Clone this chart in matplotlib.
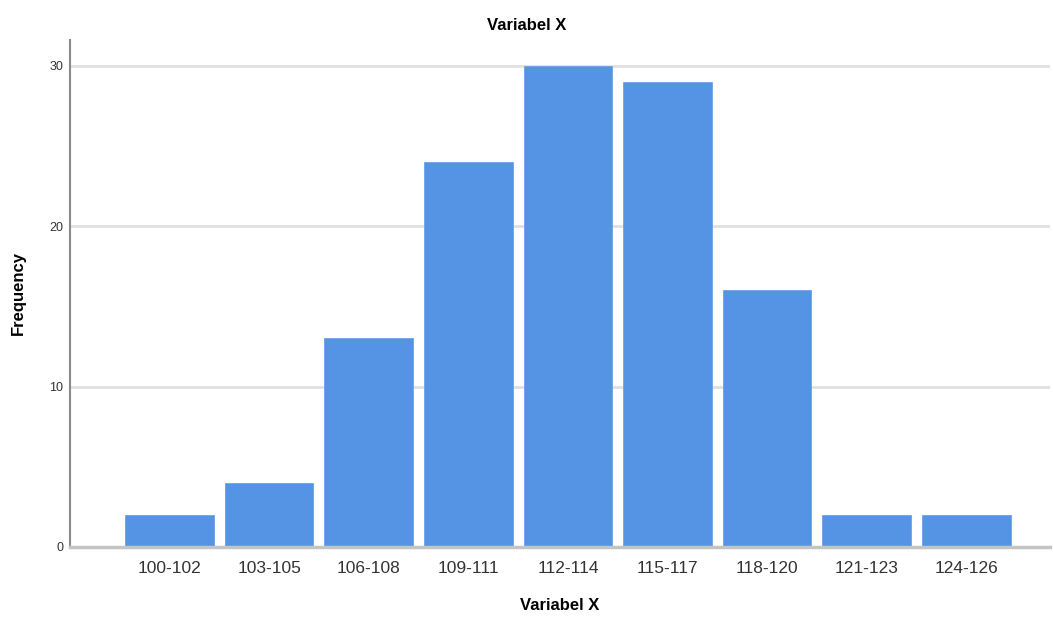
import matplotlib.pyplot as plt

plt.rcParams['font.family'] = ['Liberation Sans', 'DejaVu Sans']

categories = ['100-102', '103-105', '106-108', '109-111', '112-114',
              '115-117', '118-120', '121-123', '124-126']
counts = [2, 4, 13, 24, 30, 29, 16, 2, 2]
yticks = [0, 10, 20, 30]

fig = plt.figure(figsize=(10.53, 6.18), dpi=100)
ax = fig.add_axes([0.0665, 0.115, 0.9305, 0.82])

x = list(range(len(categories)))
ax.bar(x, counts, width=0.89, color='#5594e4', edgecolor='#6aa2e8', linewidth=0.6, zorder=3)

ax.set_xlim(-1.0, 8.84)
ax.set_ylim(0, 31.6)
ax.set_yticks(yticks)
ax.set_yticklabels([str(v) for v in yticks], fontsize=9, color='#333333')
ax.set_xticks(x)
ax.set_xticklabels(categories, fontsize=12.5, color='#333333')
ax.tick_params(axis='both', length=0)
ax.tick_params(axis='x', pad=10)
ax.tick_params(axis='y', pad=5)

ax.grid(axis='y', color='#e0e0e0', linewidth=2, zorder=0)
ax.spines['top'].set_visible(False)
ax.spines['right'].set_visible(False)
ax.spines['left'].set_color('#8a8a8a')
ax.spines['left'].set_linewidth(1.5)
ax.spines['bottom'].set_color('#c4c4c4')
ax.spines['bottom'].set_linewidth(2.5)
ax.spines['bottom'].set_zorder(4)

fig.text(0.5, 0.958, 'Variabel X', ha='center', va='center', fontsize=12, fontweight='bold')
ax.set_xlabel('Variabel X', fontsize=12, fontweight='bold', labelpad=16)
fig.text(18 / 1053, 1 - 293 / 618, 'Frequency', rotation=90, ha='center', va='center',
         fontsize=12, fontweight='bold')

fig.savefig('out.png', dpi=100, facecolor='white')
